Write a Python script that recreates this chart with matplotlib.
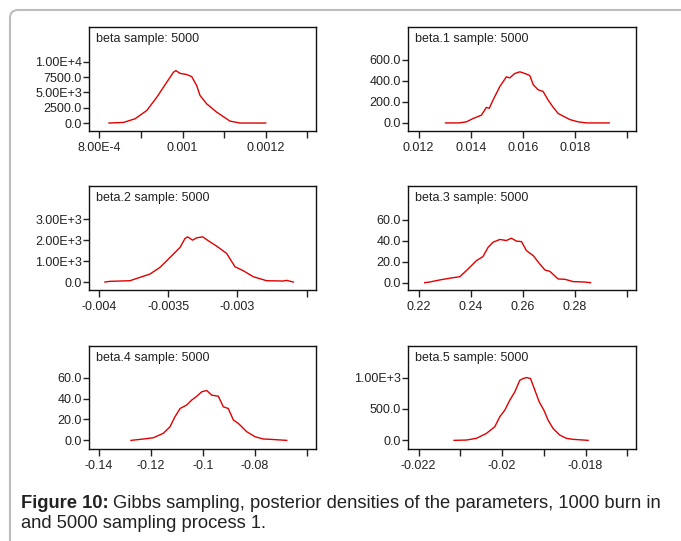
import matplotlib
matplotlib.use("Agg")
import matplotlib.pyplot as plt
from matplotlib.patches import FancyBboxPatch
from matplotlib.transforms import IdentityTransform

plt.rcParams['font.family'] = ['Liberation Sans', 'DejaVu Sans']

# ---------------- data ----------------
titles = ["beta sample: 5000", "beta.1 sample: 5000", "beta.2 sample: 5000",
          "beta.3 sample: 5000", "beta.4 sample: 5000", "beta.5 sample: 5000"]

beta_x = [0.000823, 0.000858, 0.000886, 0.000914, 0.000938, 0.000962, 0.000978, 0.000984,
          0.000994, 0.001010, 0.001022, 0.001034, 0.001042, 0.001058, 0.001082, 0.001114,
          0.001138, 0.001200]
beta_y = [0, 100, 700, 2050, 4200, 6650, 8270, 8540, 8100, 7900, 7570, 6100, 4500, 3130,
          1780, 320, 0, 0]

beta1_x = [0.01303, 0.01354, 0.01383, 0.01409, 0.01441, 0.01460, 0.01471, 0.01486, 0.01512,
           0.01537, 0.01550, 0.01569, 0.01589, 0.01608, 0.01627, 0.01640, 0.01659, 0.01678,
           0.01697, 0.01717, 0.01736, 0.01755, 0.01781, 0.01813, 0.01845, 0.01932]
beta1_y = [0, 0, 10, 42, 74, 148, 139, 219, 348, 439, 429, 471, 487, 471, 452, 365, 316,
           300, 219, 148, 90, 65, 32, 10, 0, 0]

beta2_x = [-0.003957, -0.003921, -0.003776, -0.003704, -0.003632, -0.003560, -0.003487,
           -0.003415, -0.003379, -0.003360, -0.003324, -0.003295, -0.003251, -0.003210,
           -0.003150, -0.003078, -0.003018, -0.002958, -0.002886, -0.002790, -0.002669,
           -0.002645, -0.002597]
beta2_y = [0, 32, 63, 222, 381, 698, 1174, 1650, 2079, 2158, 2000, 2111, 2158, 1968, 1714,
           1365, 730, 540, 254, 63, 48, 79, 0]

beta3_x = [0.2223, 0.2242, 0.2281, 0.2326, 0.2358, 0.2390, 0.2422, 0.2447, 0.2467, 0.2486,
           0.2512, 0.2537, 0.2556, 0.2576, 0.2595, 0.2614, 0.2640, 0.2665, 0.2685, 0.2704,
           0.2736, 0.2762, 0.2794, 0.2838, 0.2860]
beta3_y = [0, 0.6, 2.6, 4.5, 5.7, 13.1, 21.0, 24.9, 33.8, 38.6, 41.2, 40.2, 42.4, 39.6, 39.2,
           30.6, 25.8, 17.9, 12.1, 10.8, 3.5, 3.2, 1.0, 0.6, 0]

beta4_x = [-0.1277, -0.1229, -0.1191, -0.1153, -0.1127, -0.1108, -0.1088, -0.1063, -0.1044,
           -0.1024, -0.1005, -0.0986, -0.0966, -0.0941, -0.0922, -0.0903, -0.0883, -0.0864,
           -0.0832, -0.0800, -0.0768, -0.0742, -0.0678]
beta4_y = [0, 1.3, 2.5, 6.7, 13.0, 22.5, 30.5, 33.7, 38.4, 42.2, 46.4, 47.7, 43.2, 42.2, 32.1,
           30.5, 19.4, 16.2, 8.3, 3.5, 1.3, 1.0, 0]

beta5_x = [-0.021152, -0.020856, -0.020616, -0.020376, -0.020176, -0.020056, -0.019936,
           -0.019816, -0.019696, -0.019576, -0.019496, -0.019416, -0.019320, -0.019216,
           -0.019112, -0.019000, -0.018900, -0.018780, -0.018620, -0.018460, -0.018300,
           -0.017940]
beta5_y = [0, 5, 32, 111, 217, 376, 481, 640, 772, 957, 984, 1000, 984, 799, 614, 481, 323,
           190, 85, 32, 16, 0]

# tick positions and labels
x_ticks = [
    [0.0008, 0.0009, 0.0010, 0.0011, 0.0012, 0.0013],
    [0.012, 0.014, 0.016, 0.018, 0.020],
    [-0.004, -0.0035, -0.003, -0.0025],
    [0.22, 0.24, 0.26, 0.28, 0.30],
    [-0.14, -0.12, -0.10, -0.08, -0.06],
    [-0.022, -0.021, -0.020, -0.019, -0.018, -0.017],
]
x_labels = [
    ["8.00E-4", "", "0.001", "", "0.0012", ""],
    ["0.012", "0.014", "0.016", "0.018", ""],
    ["-0.004", "-0.0035", "-0.003", ""],
    ["0.22", "0.24", "0.26", "0.28", ""],
    ["-0.14", "-0.12", "-0.1", "-0.08", ""],
    ["-0.022", "", "-0.02", "", "-0.018", ""],
]
y_ticks = [
    [0, 2500, 5000, 7500, 10000],
    [0, 200, 400, 600],
    [0, 1000, 2000, 3000],
    [0, 20, 40, 60],
    [0, 20, 40, 60],
    [0, 500, 1000],
]
y_labels = [
    ["0.0", "2500.0", "5.00E+3", "7500.0", "1.00E+4"],
    ["0.0", "200.0", "400.0", "600.0"],
    ["0.0", "1.00E+3", "2.00E+3", "3.00E+3"],
    ["0.0", "20.0", "40.0", "60.0"],
    ["0.0", "20.0", "40.0", "60.0"],
    ["0.0", "500.0", "1.00E+3"],
]
x_limits = [(0.000775, 0.001321), (0.01159, 0.02035), (-0.004072, -0.002433),
            (0.2159, 0.3035), (-0.14385, -0.05654), (-0.022256, -0.016792)]
y_limits = [(-1297, 15730), (-77, 919), (-381, 4587),
            (-7.0, 92.2), (-8.25, 90.2), (-137.6, 1502)]

series_x = [beta_x, beta1_x, beta2_x, beta3_x, beta4_x, beta5_x]
series_y = [beta_y, beta1_y, beta2_y, beta3_y, beta4_y, beta5_y]

# ---------------- figure ----------------
W, H = 681, 541
fig = plt.figure(figsize=(W / 100, H / 100), dpi=100)

# rounded frame around the figure
frame = FancyBboxPatch((10, -30), 720, H - 10 + 30,
                       boxstyle="round,pad=0,rounding_size=8",
                       transform=IdentityTransform(), facecolor="none",
                       edgecolor="#bdbdbd", linewidth=1.5, zorder=0)
fig.patches.append(frame)

col_lefts = [89, 408]
col_widths = [227, 228]
row_tops = [26.5, 186, 346]
row_heights = [104.5, 104, 103]

for i in range(6):
    r, c = divmod(i, 2)
    left = col_lefts[c] / W
    bottom = 1 - (row_tops[r] + row_heights[r]) / H
    ax = fig.add_axes([left, bottom, col_widths[c] / W, row_heights[r] / H])
    ax.plot(series_x[i], series_y[i], color="#e00000", linewidth=1.0)
    ax.set_xlim(*x_limits[i])
    ax.set_ylim(*y_limits[i])
    ax.set_xticks(x_ticks[i])
    ax.set_xticklabels(x_labels[i])
    ax.set_yticks(y_ticks[i])
    ax.set_yticklabels(y_labels[i])
    ax.tick_params(axis="x", direction="out", length=5, width=1, pad=3,
                   labelsize=9, colors="#222222")
    ax.tick_params(axis="y", direction="out", length=4, width=1, pad=1,
                   labelsize=9, colors="#222222")
    for s in ax.spines.values():
        s.set_linewidth(1.0)
        s.set_color("#111111")
    ax.text(0.031, 1 - 12.5 / row_heights[r], titles[i], transform=ax.transAxes,
            ha="left", va="center", fontsize=9, color="#222222")

# caption
cap_size = 13.2
t1 = fig.text(21 / W, 1 - 504 / H, "Figure 10:", fontsize=cap_size, fontweight="bold",
              ha="left", va="center", color="#222222")
fig.canvas.draw()
bb = t1.get_window_extent()
fig.text((bb.x1 + 4) / W, 1 - 504 / H,
         "Gibbs sampling, posterior densities of the parameters, 1000 burn in",
         fontsize=cap_size, ha="left", va="center", color="#222222")
fig.text(21 / W, 1 - 524 / H, "and 5000 sampling process 1.", fontsize=cap_size,
         ha="left", va="center", color="#222222")

fig.savefig("out.png", dpi=100)
